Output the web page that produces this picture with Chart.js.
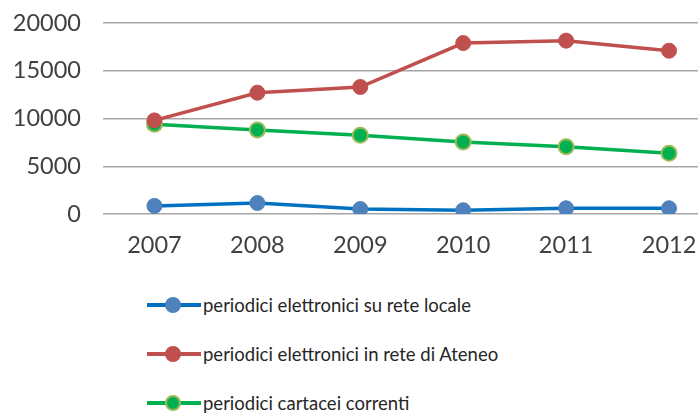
<!DOCTYPE html>
<html>
<head>
<meta charset="utf-8">
<script src="https://cdn.jsdelivr.net/npm/chart.js@4"></script>
<style>
    html, body { margin: 0; padding: 0; background: #fff; overflow: hidden; width: 698px; height: 414px; }
    #wrap { position: absolute; left: 0; top: 0; width: 730px; height: 262px; }
    #legend { position: absolute; left: 147px; top: 280px; font-family: Lato, "Noto Sans", sans-serif; font-size: 18.5px; color: #262626; }
    .item { height: 49px; display: flex; align-items: center; }
    .sym { position: relative; width: 54px; height: 16px; margin-right: 2px; }
    .sym .ln { position: absolute; left: 0; right: 0; top: 6px; height: 4px; }
    .sym .dot { position: absolute; left: 18px; top: 0; width: 16px; height: 16px; border-radius: 50%; box-sizing: border-box; }
</style>
</head>
<body>
<div id="wrap"><canvas id="chart" width="730" height="262"></canvas></div>
<div id="legend"></div>
<script>
const years = ['2007', '2008', '2009', '2010', '2011', '2012'];
const yTicks = [0, 5000, 10000, 15000, 20000];

const seriesNames = [
    'periodici elettronici su rete locale',
    'periodici elettronici in rete di Ateneo',
    'periodici cartacei correnti'
];
const localeValues = [850, 1150, 520, 400, 600, 600];
const ateneoValues = [9800, 12700, 13300, 17900, 18150, 17100];
const cartaceiValues = [9400, 8800, 8250, 7550, 7050, 6350];

const lineColors = ['#0070C0', '#C0504D', '#00B050'];
const markerFill = ['#4F81BD', '#C0504D', '#00B050'];
const markerBorder = ['#4F81BD', '#C0504D', '#9BBB59'];

const seriesValues = [localeValues, ateneoValues, cartaceiValues];

const datasets = seriesNames.map((name, i) => ({
    label: name,
    data: seriesValues[i],
    borderColor: lineColors[i],
    backgroundColor: markerFill[i],
    pointBackgroundColor: markerFill[i],
    pointBorderColor: markerBorder[i],
    pointBorderWidth: i === 2 ? 2 : 1,
    pointRadius: 7.5,
    borderWidth: 3.5,
    tension: 0
}));

const tickFont = { family: 'Lato, "Noto Sans", sans-serif', size: 23.5 };

new Chart(document.getElementById('chart'), {
    type: 'line',
    data: { labels: years, datasets: datasets },
    options: {
        responsive: false,
        animation: false,
        layout: { padding: { top: 23, right: 1, left: 0, bottom: 0 } },
        plugins: { legend: { display: false }, tooltip: { enabled: false } },
        scales: {
            x: {
                offset: true,
                grid: { display: false },
                border: { display: false },
                ticks: { color: '#404040', font: tickFont, padding: 9 },
                afterFit: (scale) => {
                    scale.height = 48;
                    scale.paddingLeft = 0;
                    scale.paddingRight = 0;
                }
            },
            y: {
                min: 0,
                max: 20000,
                afterBuildTicks: (scale) => { scale.ticks = yTicks.map(v => ({ value: v })); },
                grid: { color: '#A6A6A6', lineWidth: 1.5, drawTicks: false },
                border: { display: false },
                ticks: { color: '#404040', font: tickFont, padding: 22, callback: (v) => String(v) },
                afterFit: (scale) => {
                    scale.width = 103;
                    scale.paddingTop = 0;
                    scale.paddingBottom = 0;
                }
            }
        }
    }
});

const legend = document.getElementById('legend');
legend.innerHTML = seriesNames.map((name, i) => `
    <div class="item">
        <div class="sym">
            <div class="ln" style="background:${lineColors[i]}"></div>
            <div class="dot" style="background:${markerFill[i]};border:2px solid ${markerBorder[i]}"></div>
        </div>
        <span>${name}</span>
    </div>
`).join('');
</script>
</body>
</html>
